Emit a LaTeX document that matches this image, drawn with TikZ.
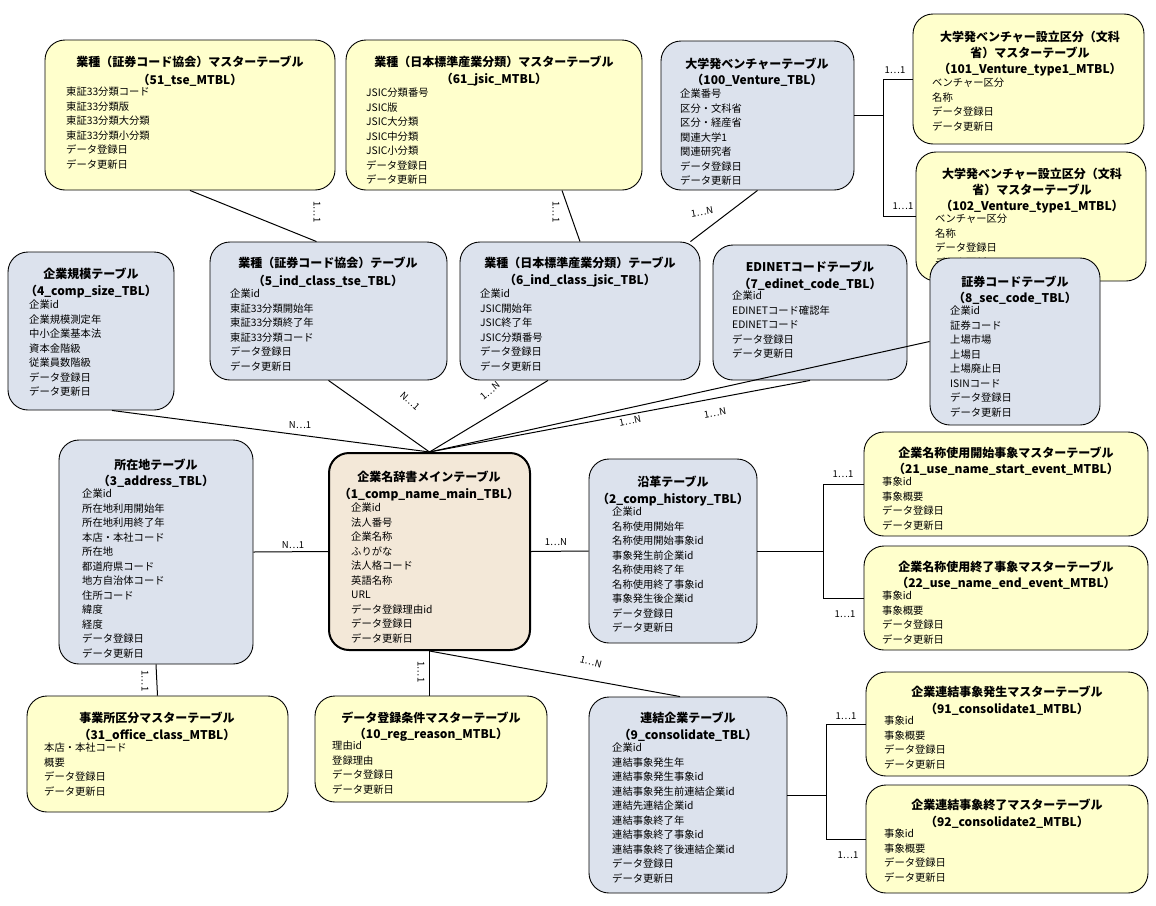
\documentclass[tikz,border=0pt]{standalone}
\usepackage{fontspec}
\setmainfont{Noto Sans CJK JP}
\usetikzlibrary{fit,calc}
\definecolor{bl}{RGB}{220,226,237}
\definecolor{ye}{RGB}{255,255,204}
\definecolor{be}{RGB}{243,232,216}
\tikzset{
 box/.style={draw=black,line width=0.9pt,rounded corners=20pt,inner sep=0pt},
 blue/.style={box,fill=bl}, yel/.style={box,fill=ye},
 mainb/.style={box,fill=be,line width=2pt},
 ttl/.style={font=\fontsize{12}{15}\selectfont\bfseries,inner sep=0pt},
 itm/.style={font=\fontsize{10.3}{14.5}\selectfont,align=left,anchor=north west,inner sep=0pt},
 lbl/.style={font=\fontsize{9.5}{11}\selectfont,inner sep=1pt},
 con/.style={line width=1pt}
}
\newcommand\tbl[6]{\node[#6,fit={(#2,#3) (#4,#5)}] (#1) {};}
\begin{document}
\begin{tikzpicture}[x=1pt,y=-1pt]
\useasboundingbox (0,0) rectangle (1156,905);
% boxes
\tbl{n51}{45}{40}{335}{190}{yel}
\node[ttl] at (190,62) {業種（証券コード協会）マスターテーブル};
\node[ttl] at (190,80) {（51\_tse\_MTBL）};
\node[itm] at (66,87) {東証33分類コード\\東証33分類版\\東証33分類大分類\\東証33分類小分類\\データ登録日\\データ更新日};

\tbl{n61}{346}{40}{642}{190}{yel}
\node[ttl] at (494,62) {業種（日本標準産業分類）マスターテーブル};
\node[ttl] at (494,80) {（61\_jsic\_MTBL）};
\node[itm] at (366,88) {JSIC分類番号\\JSIC版\\JSIC大分類\\JSIC中分類\\JSIC小分類\\データ登録日\\データ更新日};

\tbl{n100}{661}{41}{854}{190}{blue}
\node[ttl] at (757,64) {大学発ベンチャーテーブル};
\node[ttl] at (757,80) {（100\_Venture\_TBL）};
\node[itm] at (680,89) {企業番号\\区分・文科省\\区分・経産省\\関連大学1\\関連研究者\\データ登録日\\データ更新日};

\tbl{n101}{913}{14}{1144}{144}{yel}
\node[ttl] at (1030,37) {大学発ベンチャー設立区分（文科};
\node[ttl] at (1030,53) {省）マスターテーブル};
\node[ttl] at (1030,70) {（101\_Venture\_type1\_MTBL）};
\node[itm] at (932,78) {ベンチャー区分\\名称\\データ登録日\\データ更新日};

\tbl{n102}{916}{152}{1146}{281}{yel}
\node[ttl] at (1032,174) {大学発ベンチャー設立区分（文科};
\node[ttl] at (1032,190) {省）マスターテーブル};
\node[ttl] at (1032,207) {（102\_Venture\_type1\_MTBL）};
\node[itm] at (935,214) {ベンチャー区分\\名称\\データ登録日\\データ更新日};

\tbl{n4}{8}{252}{174}{410}{blue}
\node[ttl] at (91,274) {企業規模テーブル};
\node[ttl] at (91,292) {（4\_comp\_size\_TBL）};
\node[itm] at (29,300) {企業id\\企業規模測定年\\中小企業基本法\\資本金階級\\従業員数階級\\データ登録日\\データ更新日};

\tbl{n5}{210}{242}{447}{380}{blue}
\node[ttl] at (328,263) {業種（証券コード協会）テーブル};
\node[ttl] at (328,281) {（5\_ind\_class\_tse\_TBL）};
\node[itm] at (230,289) {企業id\\東証33分類開始年\\東証33分類終了年\\東証33分類コード\\データ登録日\\データ更新日};

\tbl{n6}{460}{242}{700}{380}{blue}
\node[ttl] at (580,263) {業種（日本標準産業分類）テーブル};
\node[ttl] at (580,281) {（6\_ind\_class\_jsic\_TBL）};
\node[itm] at (480,289) {企業id\\JSIC開始年\\JSIC終了年\\JSIC分類番号\\データ登録日\\データ更新日};

\tbl{n7}{713}{245}{907}{380}{blue}
\node[ttl] at (810,267) {EDINETコードテーブル};
\node[ttl] at (810,284) {（7\_edinet\_code\_TBL）};
\node[itm] at (732,291) {企業id\\EDINETコード確認年\\EDINETコード\\データ登録日\\データ更新日};

\tbl{n8}{930}{258}{1100}{425}{blue}
\node[ttl] at (1015,282) {証券コードテーブル};
\node[ttl] at (1015,298) {（8\_sec\_code\_TBL）};
\node[itm] at (950,306) {企業id\\証券コード\\上場市場\\上場日\\上場廃止日\\ISINコード\\データ登録日\\データ更新日};

\tbl{n3}{59}{440}{253}{664}{blue}
\node[ttl] at (156,465) {所在地テーブル};
\node[ttl] at (156,481) {（3\_address\_TBL）};
\node[itm] at (82,489) {企業id\\所在地利用開始年\\所在地利用終了年\\本店・本社コード\\所在地\\都道府県コード\\地方自治体コード\\住所コード\\緯度\\経度\\データ登録日\\データ更新日};

\tbl{n1}{329}{453}{530}{650}{mainb}
\node[ttl] at (429,477) {企業名辞書メインテーブル};
\node[ttl] at (429,495) {（1\_comp\_name\_main\_TBL）};
\node[itm] at (351,503) {企業id\\法人番号\\企業名称\\ふりがな\\法人格コード\\英語名称\\URL\\データ登録理由id\\データ登録日\\データ更新日};

\tbl{n2}{589}{459}{757}{643}{blue}
\node[ttl] at (673,482) {沿革テーブル};
\node[ttl] at (673,500) {（2\_comp\_history\_TBL）};
\node[itm] at (612,507) {企業id\\名称使用開始年\\名称使用開始事象id\\事象発生前企業id\\名称使用終了年\\名称使用終了事象id\\事象発生後企業id\\データ登録日\\データ更新日};

\tbl{n21}{864}{432}{1148}{536}{yel}
\node[ttl] at (1006,453) {企業名称使用開始事象マスターテーブル};
\node[ttl] at (1006,469) {（21\_use\_name\_start\_event\_MTBL）};
\node[itm] at (882,477) {事象id\\事象概要\\データ登録日\\データ更新日};

\tbl{n22}{864}{546}{1148}{650}{yel}
\node[ttl] at (1006,567) {企業名称使用終了事象マスターテーブル};
\node[ttl] at (1006,583) {（22\_use\_name\_end\_event\_MTBL）};
\node[itm] at (882,591) {事象id\\事象概要\\データ登録日\\データ更新日};

\tbl{n31}{27}{696}{288}{812}{yel}
\node[ttl] at (157,718) {事業所区分マスターテーブル};
\node[ttl] at (157,735) {（31\_office\_class\_MTBL）};
\node[itm] at (44,743) {本店・本社コード\\概要\\データ登録日\\データ更新日};

\tbl{n10}{315}{696}{547}{802}{yel}
\node[ttl] at (431,718) {データ登録条件マスターテーブル};
\node[ttl] at (431,735) {（10\_reg\_reason\_MTBL）};
\node[itm] at (332,741) {理由id\\登録理由\\データ登録日\\データ更新日};

\tbl{n9}{589}{697}{787}{893}{blue}
\node[ttl] at (688,718) {連結企業テーブル};
\node[ttl] at (688,735) {（9\_consolidate\_TBL）};
\node[itm] at (612,743) {企業id\\連結事象発生年\\連結事象発生事象id\\連結事象発生前連結企業id\\連結先連結企業id\\連結事象終了年\\連結事象終了事象id\\連結事象終了後連結企業id\\データ登録日\\データ更新日};

\tbl{n91}{866}{672}{1148}{776}{yel}
\node[ttl] at (1007,692) {企業連結事象発生マスターテーブル};
\node[ttl] at (1007,709) {（91\_consolidate1\_MTBL）};
\node[itm] at (884,716) {事象id\\事象概要\\データ登録日\\データ更新日};

\tbl{n92}{866}{785}{1148}{893}{yel}
\node[ttl] at (1007,805) {企業連結事象終了マスターテーブル};
\node[ttl] at (1007,822) {（92\_consolidate2\_MTBL）};
\node[itm] at (884,829) {事象id\\事象概要\\データ登録日\\データ更新日};

% connectors
\draw[con] ($(n4.south)+(21,0)$) -- (n1.north);
\draw[con] (n5.south) -- (n1.north);
\draw[con] ($(n6.south)+(-32,0)$) -- (n1.north);
\draw[con] (n7.south) -- (n1.north);
\draw[con] (n8.west) -- (n1.north);
\draw[con] (n51.south) -- ($(n5.north)+(-12,0)$);
\draw[con] ($(n61.south)+(68,0)$) -- (n6.north);
\draw[con] (n100.south) -- ($(n6.north east)+(-10,0)$);
\draw[con] (n100.east) -- ++(29,0) |- (n101.west);
\draw[con] (n100.east) -- ++(29,0) |- (n102.west);
\draw[con] (n3.east) -- (n1.west);
\draw[con] (n1.east) -- (n2.west);
\draw[con] (n2.east) -- ++(66,0) |- (n21.west);
\draw[con] (n2.east) -- ++(66,0) |- (n22.west);
\draw[con] (n3.south) -- (n31.north);
\draw[con] (n1.south) -- (n1.south |- n10.north);
\draw[con] (n1.south) -- ($(n9.north)+(-8,0)$);
\draw[con] (n9.east) -- ++(39,0) |- (n91.west);
\draw[con] (n9.east) -- ++(39,0) |- (n92.west);

% labels
\node[lbl] at (300,425) {N…1};
\node[lbl,rotate=-42] at (410,401) {N…1};
\node[lbl,rotate=40] at (490,391) {1…N};
\node[lbl,rotate=12] at (630,421) {1…N};
\node[lbl,rotate=10] at (715,413) {1…N};
\node[lbl,rotate=-90] at (317,212) {1…1};
\node[lbl,rotate=-90] at (556,212) {1…1};
\node[lbl,rotate=10] at (702,212) {1…N};
\node[lbl] at (895,70) {1…1};
\node[lbl] at (903,206) {1…1};
\node[lbl] at (293,545) {N…1};
\node[lbl] at (556,542) {1…N};
\node[lbl] at (843,474) {1…1};
\node[lbl] at (845,614) {1…1};
\node[lbl,rotate=-90] at (145,681) {1…1};
\node[lbl,rotate=-90] at (421,672) {1…1};
\node[lbl,rotate=-15] at (591,662) {1…N};
\node[lbl] at (846,716) {1…1};
\node[lbl] at (848,855) {1…1};
\end{tikzpicture}
\end{document}
